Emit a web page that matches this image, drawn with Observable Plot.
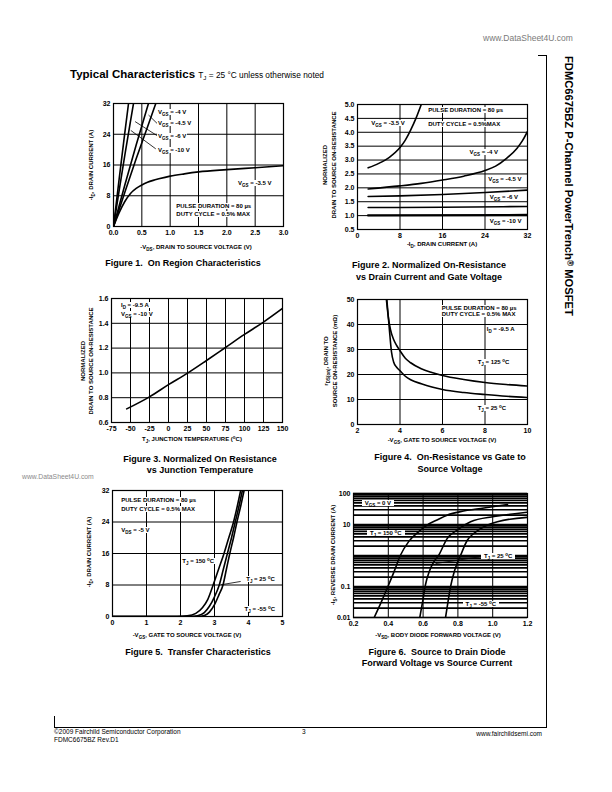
<!DOCTYPE html>
<html><head><meta charset="utf-8">
<script src="https://cdn.jsdelivr.net/npm/d3@7"></script>
<script src="https://cdn.jsdelivr.net/npm/@observablehq/plot@0.6"></script>
<style>
body{margin:0;background:#fff;}
#page{position:relative;width:612px;height:792px;overflow:hidden;font-family:"Liberation Sans",Arial,Helvetica,sans-serif;color:#000;background:#fff;}
.t{position:absolute;white-space:nowrap;line-height:1;}
.ann{font-size:6px;font-weight:bold;background:#fff;padding:0 1px;transform:translate(0,-50%);}
.ax{font-size:6px;font-weight:bold;transform:translate(-50%,-50%);}
.axr{font-size:6px;font-weight:bold;transform:translate(-50%,-50%) rotate(-90deg);}
.cap{font-size:9px;font-weight:bold;transform:translate(-50%,-50%);text-align:center;}
sub{font-size:75%;vertical-align:-1.5px;line-height:0;}
sup{font-size:75%;vertical-align:2.5px;line-height:0;}
.rule{position:absolute;background:#000;}
</style></head><body><div id="page"></div>
<script>
// ---------- Figure 1: On Region Characteristics ----------
const fig1_xTicks = [0, 0.5, 1, 1.5, 2, 2.5, 3];
const fig1_yTicks = [0, 8, 16, 24, 32];
const fig1_vgs35 = [[0,0],[0.1,3.6],[0.2,6.5],[0.3,8.6],[0.4,9.9],[0.5,10.8],[0.6,11.5],[0.7,12.0],[0.8,12.4],[1.0,13.1],[1.25,13.7],[1.5,14.2],[2.0,14.8],[2.5,15.3],[3.0,15.8]];
const fig1_vgs4  = [[0,0],[0.2,8.9],[0.4,17.6],[0.6,25.9],[0.746,32]];
const fig1_vgs45 = [[0,0],[0.2,10.8],[0.4,21.2],[0.617,32]];
const fig1_vgs6  = [[0,0],[0.1,9.4],[0.2,18.6],[0.3,27.4],[0.353,32]];
const fig1_vgs10 = [[0,0],[0.1,12.4],[0.2,24.4],[0.265,32]];
const fig1_leaders = [[0.618,29.0,0.805,26.3],[0.381,27.3,0.805,23.3],[0.305,25.0,0.746,20.2]];

// ---------- Figure 2: Normalized On-Resistance vs Drain Current ----------
const fig2_xTicks = [0, 8, 16, 24, 32];
const fig2_yTicks = [0.5, 1.0, 1.5, 2.0, 2.5, 3.0, 3.5, 4.0, 4.5, 5.0];
const fig2_vgs35 = [[2,2.72],[4,2.88],[6,3.1],[8,3.45],[9,3.72],[10,4.08],[11,4.5],[12,5.0]];
const fig2_vgs4  = [[2,1.96],[8,2.07],[12,2.16],[16,2.28],[20,2.42],[24,2.62],[26,2.78],[28,3.05],[30,3.42],[31,3.68],[32,4.03]];
const fig2_vgs45 = [[2,1.69],[8,1.71],[16,1.76],[24,1.83],[32,1.92]];
const fig2_vgs6  = [[2,1.29],[16,1.30],[32,1.33]];
const fig2_vgs10 = [[2,1.01],[32,1.02]];

// ---------- Figure 3: Normalized On-Resistance vs Junction Temperature ----------
const fig3_xTicks = [-75, -50, -25, 0, 25, 50, 75, 100, 125, 150];
const fig3_yTicks = [0.6, 0.8, 1.0, 1.2, 1.4, 1.6];
const fig3_rds = [[-55,0.71],[-25,0.807],[0,0.905],[25,0.998],[50,1.10],[75,1.205],[100,1.31],[125,1.41],[150,1.52]];

// ---------- Figure 4: On-Resistance vs Gate to Source Voltage ----------
const fig4_xTicks = [2, 4, 6, 8, 10];
const fig4_yTicks = [0, 10, 20, 30, 40, 50];
const fig4_t125 = [[3.36,50],[3.45,43],[3.55,38],[3.7,34],[3.85,31.5],[4,29.5],[4.25,26.5],[4.5,24.7],[5,22.3],[5.5,20.8],[6,19.6],[7,18],[8,16.8],[9,16],[10,15.4]];
const fig4_t25  = [[3.38,50],[3.5,38],[3.6,29],[3.7,25],[3.85,22.8],[4,21.5],[4.25,19.3],[4.5,17.9],[5,16.3],[5.5,15],[6,14],[7,12.8],[8,12.0],[9,11.3],[10,10.8]];

// ---------- Figure 5: Transfer Characteristics ----------
const fig5_xTicks = [0, 1, 2, 3, 4, 5];
const fig5_yTicks = [0, 8, 16, 24, 32];
const fig5_t150 = [[0,0],[1.9,0],[2.2,0.15],[2.45,0.8],[2.65,2.3],[2.8,4.3],[2.96,8],[3.12,12],[3.28,16],[3.42,20],[3.56,24],[3.67,28],[3.77,32]];
const fig5_t25  = [[0,0],[2.3,0],[2.5,0.2],[2.7,1.0],[2.85,2.6],[3.0,5.0],[3.14,8],[3.26,12],[3.38,16],[3.5,20],[3.61,24],[3.72,28],[3.82,32]];
const fig5_tm55 = [[0,0],[2.5,0],[2.7,0.25],[2.85,1.1],[3.0,3.0],[3.13,5.5],[3.25,8],[3.35,12],[3.45,16],[3.56,20],[3.66,24],[3.77,28],[3.87,32]];
const fig5_leaders = [[3.185,8.05,3.77,8.9]];

// ---------- Figure 6: Source to Drain Diode Forward Voltage ----------
const fig6_xTicks = [0.2, 0.4, 0.6, 0.8, 1.0, 1.2];
const fig6_yTicks = [0.01, 0.1, 10, 100];
const fig6_yGrid = [0.01,0.02,0.03,0.04,0.05,0.06,0.07,0.08,0.09,0.1,0.2,0.3,0.4,0.5,0.6,0.7,0.8,0.9,1,2,3,4,5,6,7,8,9,10,20,30,40,50,60,70,80,90,100];
const fig6_t150 = [[0.319,0.01],[0.36,0.032],[0.398,0.1],[0.435,0.32],[0.469,1],[0.517,2.8],[0.575,5.9],[0.623,9.6],[0.68,14],[0.738,20],[0.815,26],[0.95,34],[1.085,44]];
const fig6_t25  = [[0.581,0.01],[0.597,0.032],[0.613,0.11],[0.635,0.3],[0.66,0.6],[0.69,1.03],[0.738,3.5],[0.796,6.6],[0.873,12.3],[1.008,18],[1.2,25]];
const fig6_tm55 = [[0.729,0.01],[0.743,0.032],[0.758,0.1],[0.775,0.25],[0.792,0.49],[0.815,1],[0.854,3.1],[0.892,5.2],[0.95,8.5],[1.027,12.3],[1.2,17]];
const fig6_leaders = [[0.672,0.55,0.921,0.9]];

// ================= rendering =================
const page = document.getElementById("page");
function addText(html, cls, left, top, extra) {
  const d = document.createElement("div");
  d.className = "t " + cls;
  d.innerHTML = html;
  d.style.left = left + "px";
  d.style.top = top + "px";
  if (extra) Object.assign(d.style, extra);
  page.appendChild(d);
  return d;
}
function rule(x, y, w, h) {
  const d = document.createElement("div");
  d.className = "rule";
  Object.assign(d.style, {left: x + "px", top: y + "px", width: w + "px", height: h + "px"});
  page.appendChild(d);
}
const P = d => d[0], Q = d => d[1];
function curve(data, sw) {
  return Plot.line(data, {x: P, y: Q, stroke: "#000", strokeWidth: sw || 1.6, curve: "monotone-x", clip: true});
}
function leaders(data) {
  return Plot.link(data, {x1: d => d[0], y1: d => d[1], x2: d => d[2], y2: d => d[3], stroke: "#000", strokeWidth: 0.8});
}
const fs = d => String(d);
const f1 = d3.format(".1f");
function makeChart(frame, xOpt, yOpt, marks) {
  const [L, T, R, B] = frame;
  const mL = 34, mR = 12, mT = 8, mB = 18;
  const chart = Plot.plot({
    width: (R - L) + mL + mR, height: (B - T) + mT + mB,
    marginLeft: mL, marginRight: mR, marginTop: mT, marginBottom: mB,
    x: Object.assign({tickSize: 0, tickPadding: 4, label: null, tickFormat: fs}, xOpt),
    y: Object.assign({tickSize: 0, tickPadding: 3, label: null, tickFormat: fs}, yOpt),
    style: {fontFamily: "'Liberation Sans', Arial, sans-serif", fontSize: "7px", fontWeight: "bold", color: "#000", background: "transparent", overflow: "visible"},
    marks: marks.concat([Plot.frame({stroke: "#000", strokeWidth: 1.2})])
  });
  chart.style.position = "absolute";
  chart.style.left = (L - mL) + "px";
  chart.style.top = (T - mT) + "px";
  page.appendChild(chart);
  const sx = chart.scale("x"), sy = chart.scale("y");
  return {px: v => L - mL + sx.apply(v), py: v => T - mT + sy.apply(v)};
}
function ann(c, html, x, y, extra) { return addText(html, "ann", c.px(x), c.py(y), extra); }
const gridStyle = {stroke: "#000", strokeOpacity: 1, strokeWidth: 1};

// ---- header / page furniture ----
addText("www.DataSheet4U.com", "", 483, 34, {fontSize: "8.5px", color: "#7a7a7a"});
addText("www.DataSheet4U.com", "", 22, 474, {fontSize: "6.8px", color: "#8a8a8a"});
addText('Typical Characteristics <span style="font-size:8.3px;font-weight:normal">T<sub>J</sub> = 25 °C unless otherwise noted</span>', "", 70, 69, {fontSize: "11.5px", fontWeight: "bold"});
addText("FDMC6675BZ P-Channel PowerTrench<sup>®</sup> MOSFET", "", 568, 56, {fontSize: "11.2px", fontWeight: "bold", transformOrigin: "0 0", transform: "rotate(90deg) translate(0,-50%)"});
rule(546, 55, 1, 673);
rule(538, 55, 9, 1);
rule(54, 727, 493, 1);
rule(54, 716, 1, 12);
addText("©2009 Fairchild Semiconductor Corporation", "", 54, 729, {fontSize: "6.5px"});
addText("FDMC6675BZ Rev.D1", "", 54, 737, {fontSize: "6.5px"});
addText("3", "", 302, 729, {fontSize: "6.5px"});
addText("www.fairchildsemi.com", "", 470, 731, {fontSize: "6.5px", width: "72px", textAlign: "right"});

// ---- Figure 1 ----
{
  const c = makeChart([113, 103, 283, 226],
    {domain: [0, 3], ticks: fig1_xTicks, tickFormat: f1},
    {domain: [0, 32], ticks: fig1_yTicks},
    [Plot.gridX(fig1_xTicks.slice(1, -1), gridStyle), Plot.gridY(fig1_yTicks.slice(1, -1), gridStyle),
     curve(fig1_vgs35), curve(fig1_vgs4), curve(fig1_vgs45), curve(fig1_vgs6), curve(fig1_vgs10), leaders(fig1_leaders)]);
  ann(c, "V<sub>GS</sub> = -4 V", 0.776, 29.7);
  ann(c, "V<sub>GS</sub> = -4.5 V", 0.776, 26.7);
  ann(c, "V<sub>GS</sub> = -6 V", 0.776, 23.4);
  ann(c, "V<sub>GS</sub> = -10 V", 0.776, 19.7);
  ann(c, "V<sub>GS</sub> = -3.5 V", 2.19, 11.2);
  ann(c, "PULSE DURATION = 80 µs", 1.10, 5.2);
  ann(c, "DUTY CYCLE = 0.5% MAX", 1.10, 3.0);
  addText("-I<sub>D</sub>, DRAIN CURRENT (A)", "axr", 91, 165);
  addText("-V<sub>DS</sub>, DRAIN TO SOURCE VOLTAGE (V)", "ax", 196, 247);
  addText("Figure 1.&nbsp; On Region Characteristics", "cap", 183, 263);
}
// ---- Figure 2 ----
{
  const c = makeChart([357, 104, 527, 229],
    {domain: [0, 32], ticks: fig2_xTicks},
    {domain: [0.5, 5.0], ticks: fig2_yTicks, tickFormat: f1},
    [Plot.gridX(fig2_xTicks.slice(1, -1), gridStyle), Plot.gridY(fig2_yTicks.slice(1, -1), gridStyle),
     curve(fig2_vgs35), curve(fig2_vgs4), curve(fig2_vgs45), curve(fig2_vgs6), curve(fig2_vgs10, 2.4)]);
  ann(c, "PULSE DURATION = 80 µs", 13.2, 4.79);
  ann(c, "DUTY CYCLE = 0.5%MAX", 13.2, 4.28);
  ann(c, "V<sub>GS</sub> = -3.5 V", 2.5, 4.3);
  ann(c, "V<sub>GS</sub> = -4 V", 21.0, 3.28);
  ann(c, "V<sub>GS</sub> = -4.5 V", 24.5, 2.3);
  ann(c, "V<sub>GS</sub> = -6 V", 24.8, 1.64);
  ann(c, "V<sub>GS</sub> = -10 V", 24.8, 0.79);
  addText("NORMALIZED", "axr", 325, 165);
  addText("DRAIN TO SOURCE ON-RESISTANCE", "axr", 334, 165);
  addText("-I<sub>D</sub>, DRAIN CURRENT (A)", "ax", 442, 244);
  addText("Figure 2. Normalized On-Resistance<br>vs Drain Current and Gate Voltage", "cap", 429, 271, {lineHeight: "11.5px"});
}
// ---- Figure 3 ----
{
  const c = makeChart([111, 298, 282, 422],
    {domain: [-75, 150], ticks: fig3_xTicks},
    {domain: [0.6, 1.6], ticks: fig3_yTicks, tickFormat: f1},
    [Plot.gridX(fig3_xTicks.slice(1, -1), gridStyle), Plot.gridY(fig3_yTicks.slice(1, -1), gridStyle),
     curve(fig3_rds)]);
  ann(c, "I<sub>D</sub> = -9.5 A", -63.2, 1.546);
  ann(c, "V<sub>GS</sub> = -10 V", -63.2, 1.473);
  addText("NORMALIZED", "axr", 82.5, 361);
  addText("DRAIN TO SOURCE ON-RESISTANCE", "axr", 90.5, 361);
  addText("T<sub>J</sub>, JUNCTION TEMPERATURE (<sup>o</sup>C)", "ax", 192, 439);
  addText("Figure 3. Normalized On Resistance<br>vs Junction Temperature", "cap", 200, 464.5, {lineHeight: "11.5px"});
}
// ---- Figure 4 ----
{
  const c = makeChart([357, 299, 527, 424],
    {domain: [2, 10], ticks: fig4_xTicks},
    {domain: [0, 50], ticks: fig4_yTicks},
    [Plot.gridX(fig4_xTicks.slice(1, -1), gridStyle), Plot.gridY(fig4_yTicks.slice(1, -1), gridStyle),
     curve(fig4_t125), curve(fig4_t25)]);
  ann(c, "PULSE DURATION = 80 µs", 5.94, 46.5);
  ann(c, "DUTY CYCLE = 0.5% MAX", 5.94, 43.9);
  ann(c, "I<sub>D</sub> = -9.5 A", 8.06, 38.0);
  ann(c, "T<sub>J</sub> = 125 <sup>o</sup>C", 7.63, 24.7);
  ann(c, "T<sub>J</sub> = 25 <sup>o</sup>C", 7.63, 6.4);
  addText("r<sub>DS(on)</sub>, DRAIN TO", "axr", 326, 361);
  addText("SOURCE ON-RESISTANCE (mΩ)", "axr", 335, 361);
  addText("-V<sub>GS</sub>, GATE TO SOURCE VOLTAGE (V)", "ax", 442, 440);
  addText("Figure 4.&nbsp; On-Resistance vs Gate to<br>Source Voltage", "cap", 450, 463, {lineHeight: "11.5px"});
}
// ---- Figure 5 ----
{
  const c = makeChart([112, 490, 282, 616],
    {domain: [0, 5], ticks: fig5_xTicks},
    {domain: [0, 32], ticks: fig5_yTicks},
    [Plot.gridX(fig5_xTicks.slice(1, -1), gridStyle), Plot.gridY(fig5_yTicks.slice(1, -1), gridStyle),
     curve(fig5_t150), curve(fig5_t25), curve(fig5_tm55), leaders(fig5_leaders)]);
  ann(c, "PULSE DURATION = 80 µs", 0.244, 29.4);
  ann(c, "DUTY CYCLE = 0.5% MAX", 0.244, 27.3);
  ann(c, "V<sub>DS</sub> = -5 V", 0.244, 21.8);
  ann(c, "T<sub>J</sub> = 150 <sup>o</sup>C", 2.04, 14.0);
  ann(c, "T<sub>J</sub> = 25 <sup>o</sup>C", 3.92, 9.3);
  ann(c, "T<sub>J</sub> = -55 <sup>o</sup>C", 3.87, 1.8);
  addText("-I<sub>D</sub>, DRAIN CURRENT (A)", "axr", 88.5, 552);
  addText("-V<sub>GS</sub>, GATE TO SOURCE VOLTAGE (V)", "ax", 187, 635);
  addText("Figure 5.&nbsp; Transfer Characteristics", "cap", 198, 652);
}
// ---- Figure 6 ----
{
  const c = makeChart([353, 493, 527, 617],
    {domain: [0.2, 1.2], ticks: fig6_xTicks, tickFormat: f1},
    {type: "log", domain: [0.01, 100], ticks: fig6_yTicks},
    [Plot.gridX(fig6_xTicks.slice(1, -1), gridStyle), Plot.gridY(fig6_yGrid, {stroke: "#000", strokeOpacity: 1, strokeWidth: 1.6}),
     curve(fig6_t150), curve(fig6_t25), curve(fig6_tm55), leaders(fig6_leaders)]);
  const box = {padding: "0 3px"};
  ann(c, "V<sub>GS</sub> = 0 V", 0.25, 48, box);
  ann(c, "T<sub>J</sub> = 150 <sup>o</sup>C", 0.28, 5.2, box);
  ann(c, "T<sub>J</sub> = 25 <sup>o</sup>C", 0.935, 0.91, box);
  ann(c, "T<sub>J</sub> = -55 <sup>o</sup>C", 0.83, 0.026, box);
  addText("-I<sub>S</sub>, REVERSE DRAIN CURRENT (A)", "axr", 333, 555);
  addText("-V<sub>SD</sub>, BODY DIODE FORWARD VOLTAGE (V)", "ax", 438, 635);
  addText("Figure 6.&nbsp; Source to Drain Diode<br>Forward Voltage vs Source Current", "cap", 437, 657.5, {lineHeight: "11.5px"});
}
</script></body></html>
